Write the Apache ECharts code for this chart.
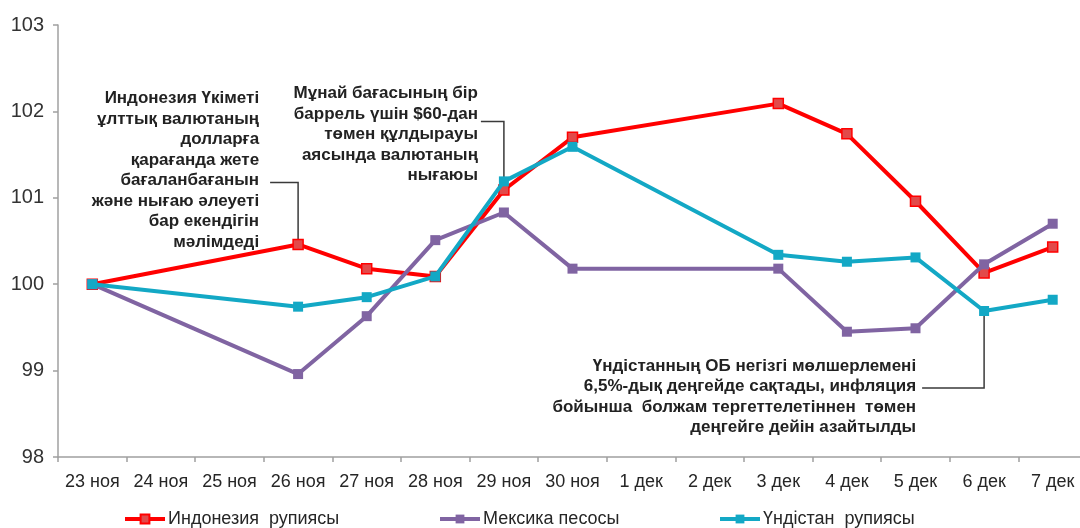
<!DOCTYPE html>
<html>
<head>
<meta charset="utf-8">
<script src="https://cdn.jsdelivr.net/npm/echarts@6/dist/echarts.min.js"></script>
<style>
  html, body { margin: 0; padding: 0; background: #fff; }
  #chart { width: 1080px; height: 528px; }
</style>
</head>
<body>
<div id="chart"></div>
<script>
// күндер
const categories = ["23 ноя", "24 ноя", "25 ноя", "26 ноя", "27 ноя", "28 ноя", "29 ноя", "30 ноя",
  "1 дек", "2 дек", "3 дек", "4 дек", "5 дек", "6 дек", "7 дек"];
const seriesNames = ["Индонезия  рупиясы", "Мексика песосы", "Үндістан  рупиясы"];
// 24-25 ноя, 1-2 дек - деректер жоқ
const indonesia = [100, null, null, 100.46, 100.18, 100.09, 101.09, 101.70, null, null, 102.09, 101.74, 100.96, 100.13, 100.43];
const mexico = [100, null, null, 98.96, 99.63, 100.51, 100.83, 100.18, null, null, 100.18, 99.45, 99.49, 100.23, 100.70];
const india = [100, null, null, 99.74, 99.85, 100.09, 101.19, 101.59, null, null, 100.34, 100.26, 100.31, 99.69, 99.82];
const yTicks = [98, 99, 100, 101, 102, 103];

const notes = [
  {
    series: 0, cat: 3,
    lines: ["Индонезия Үкіметі", "ұлттық валютаның", "долларға", "қарағанда жете",
      "бағаланбағанын", "және нығаю әлеуеті", "бар екендігін", "мәлімдеді"],
    textDx: -39, textDy: -156, leadDx: -28, leadDy: -62
  },
  {
    series: 2, cat: 6,
    lines: ["Мұнай бағасының бір", "баррель үшін $60-дан", "төмен құлдырауы",
      "аясында валютаның", "нығаюы"],
    textDx: -26, textDy: -98, leadDx: -23, leadDy: -60
  },
  {
    series: 2, cat: 13,
    lines: ["Үндістанның ОБ негізгі мөлшерлемені", "6,5%-дық деңгейде сақтады, инфляция",
      "бойынша  болжам тергеттелетіннен  төмен", "деңгейге дейін азайтылды"],
    textDx: -68, textDy: 45, leadDx: -62, leadDy: 77
  }
];

const colors = ["#ff0000", "#8064a2", "#13a8c5"];
const markerFill = ["#e24a4a", "#8064a2", "#13a8c5"];
const legendLeft = [118, 433, 713];
const font = "Arial, 'Liberation Sans', sans-serif";

function makeSeries(name, data, i) {
  return {
    name: name,
    type: "line",
    data: data,
    connectNulls: true,
    symbol: "rect",
    symbolSize: 10,
    lineStyle: { color: colors[i], width: 4 },
    itemStyle: { color: markerFill[i], borderColor: colors[i], borderWidth: i === 0 ? 1.5 : 0 },
    emphasis: { disabled: true },
    z: 3 + i
  };
}

const chart = echarts.init(document.getElementById("chart"));
const option = {
  animation: false,
  backgroundColor: "#fff",
  textStyle: { fontFamily: font },
  grid: { left: 58, top: 25, bottom: 71, width: 1029, containLabel: false, outerBoundsMode: "none" },
  legend: seriesNames.map(function (name, i) {
    return {
      data: [name],
      top: 505,
      left: legendLeft[i],
      itemWidth: 40,
      itemHeight: 11,
      itemGap: 4,
      lineStyle: { width: 4 },
      textStyle: { fontSize: 18, color: "#262626", fontFamily: font, padding: [0, 0, 0, -2] }
    };
  }),
  xAxis: {
    type: "category",
    data: categories,
    boundaryGap: true,
    axisLine: { show: true, lineStyle: { color: "#a0a0a0", width: 1.5 } },
    axisTick: { show: true, length: 5, lineStyle: { color: "#a0a0a0", width: 1.5 } },
    axisLabel: { fontSize: 18, color: "#262626", margin: 16, interval: 0, fontFamily: font },
    splitLine: { show: false }
  },
  yAxis: {
    type: "value",
    min: yTicks[0],
    max: yTicks[yTicks.length - 1],
    interval: 1,
    axisLine: { show: true, lineStyle: { color: "#a0a0a0", width: 1.5 } },
    axisTick: { show: true, length: 5, lineStyle: { color: "#a0a0a0", width: 1.5 } },
    axisLabel: { fontSize: 20, color: "#333", margin: 14, fontFamily: font },
    splitLine: { show: false }
  },
  series: [
    makeSeries(seriesNames[0], indonesia, 0),
    makeSeries(seriesNames[1], mexico, 1),
    makeSeries(seriesNames[2], india, 2)
  ]
};
chart.setOption(option);

// аннотациялар - нүктенің пиксель орнына байланысты
const allData = [indonesia, mexico, india];
const graphics = [];
notes.forEach(function (n) {
  const p = chart.convertToPixel({ seriesIndex: n.series }, [n.cat, allData[n.series][n.cat]]);
  graphics.push({
    type: "polyline",
    z: 2,
    shape: { points: [[p[0] + n.leadDx, p[1] + n.leadDy], [p[0], p[1] + n.leadDy], [p[0], p[1]]] },
    style: { stroke: "#3a3a3a", lineWidth: 1.5, fill: null }
  });
  graphics.push({
    type: "text",
    z: 10,
    x: p[0] + n.textDx,
    y: p[1] + n.textDy,
    style: {
      text: n.lines.join("\n"),
      font: "bold 17px " + font,
      lineHeight: 20.5,
      fill: "#222",
      align: "right",
      verticalAlign: "top"
    }
  });
});
chart.setOption({ graphic: graphics });

window.addEventListener("resize", function () {
  chart.resize();
});
</script>
</body>
</html>
